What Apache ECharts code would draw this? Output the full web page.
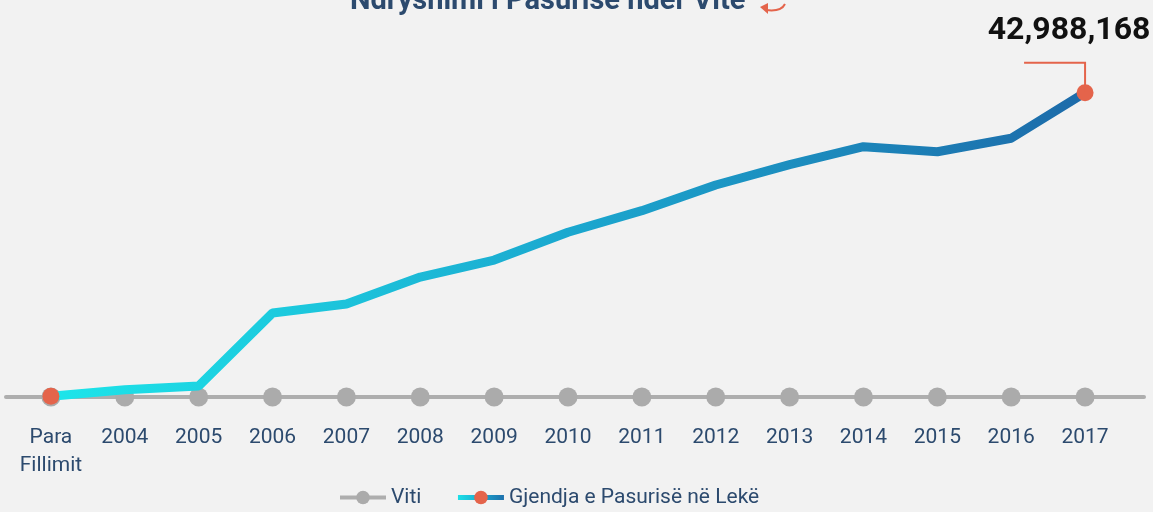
<!DOCTYPE html>
<html>
<head>
<meta charset="utf-8">
<script src="https://cdn.jsdelivr.net/npm/echarts@6/dist/echarts.min.js"></script>
<style>
  html, body { margin: 0; padding: 0; background: #f2f2f2; }
  #main { width: 1153px; height: 512px; }
</style>
</head>
<body>
<div id="main"></div>
<script>
// te dhenat
const categories = ['Para\nFillimit', '2004', '2005', '2006', '2007', '2008', '2009', '2010',
    '2011', '2012', '2013', '2014', '2015', '2016', '2017'];
const vitiValues = [0, 0, 0, 0, 0, 0, 0, 0, 0, 0, 0, 0, 0, 0, 0];
const pasuriaValues = [100000, 1030000, 1550000, 11870000, 13140000, 16950000, 19350000, 23270000,
    26320000, 29950000, 32820000, 35360000, 34650000, 36550000, 42988168];

const font = "Roboto, 'Liberation Sans', sans-serif";
const blue = '#2c4a6e';
const orange = '#e4644b';
const last = pasuriaValues.length - 1;

const gradient = () => new echarts.graphic.LinearGradient(0, 0, 1, 0, [
    { offset: 0, color: '#1de6ea' },
    { offset: 0.5, color: '#1ba8cf' },
    { offset: 1, color: '#1d6aa9' }
]);

let myChart = echarts.init(document.getElementById('main'));

myChart.setOption({
    backgroundColor: '#f2f2f2',
    animation: false,
    title: {
        text: 'Ndryshimi i Pasurisë ndër Vite',
        left: 345,
        top: -18,
        textStyle: { fontFamily: font, fontSize: 29, fontWeight: 'bold', color: blue }
    },
    graphic: [{
        // shigjeta e vogel prane titullit
        type: 'bezierCurve',
        shape: { x1: 785, y1: 4, cpx1: 781, cpy1: 12, x2: 766, y2: 10 },
        style: { stroke: orange, fill: null, lineWidth: 2 }
    }, {
        type: 'polygon',
        shape: { points: [[760, 7], [768, 3], [768, 14]] },
        style: { fill: orange }
    }],
    legend: {
        bottom: -1,
        left: 333,
        itemWidth: 46,
        itemHeight: 17,
        itemGap: 34,
        lineStyle: { width: 4 },
        textStyle: { fontFamily: font, fontSize: 21, color: blue },
        data: [
            { name: 'Viti' },
            { name: 'Gjendja e Pasurisë në Lekë', lineStyle: { color: gradient(), width: 5 } }
        ]
    },
    grid: [
        { left: 14, right: 31, top: 92.7, bottom: 115 },
        { left: 6, right: 9, top: 92.7, bottom: 115 }
    ],
    xAxis: [{
        type: 'category',
        data: categories,
        gridIndex: 0,
        axisLine: { show: false },
        axisTick: { show: false },
        axisLabel: {
            margin: 27,
            fontFamily: font,
            fontSize: 21,
            lineHeight: 28,
            color: blue,
            interval: 0
        }
    }, {
        type: 'category',
        gridIndex: 1,
        data: categories,
        axisLine: { show: true, lineStyle: { color: '#aeaeae', width: 4 } },
        axisTick: { show: false },
        axisLabel: { show: false }
    }],
    yAxis: [{
        type: 'value',
        gridIndex: 0,
        min: 0,
        max: 42988168,
        show: false
    }, {
        type: 'value',
        gridIndex: 1,
        min: 0,
        max: 1,
        show: false
    }],
    series: [
        {
            name: 'Viti',
            type: 'line',
            data: vitiValues,
            symbol: 'circle',
            symbolSize: 19,
            itemStyle: { color: '#ababab' },
            lineStyle: { color: '#aeaeae', width: 4 },
            z: 2
        },
        {
            name: 'Gjendja e Pasurisë në Lekë',
            type: 'line',
            data: pasuriaValues.map((v, i) => (i === 0 || i === last) ? v : { value: v, symbol: 'none' }),
            symbol: 'circle',
            symbolSize: 17,
            itemStyle: { color: orange },
            lineStyle: { width: 9, color: gradient() },
            z: 3,
            markPoint: {
                silent: true,
                data: [{ coord: [categories[last], pasuriaValues[last]] }],
                symbol: 'path://M0,0 L62,0 L62,30 L60,30 L60,2 L0,2 Z',
                symbolSize: [62, 30],
                symbolOffset: [-30, -16],
                itemStyle: { color: orange },
                label: {
                    show: true,
                    position: 'inside',
                    offset: [14, -46],
                    formatter: () => pasuriaValues[last].toLocaleString('en-US'),
                    fontFamily: font,
                    fontSize: 32,
                    fontWeight: 'bold',
                    color: '#111'
                }
            }
        }
    ]
});
</script>
</body>
</html>
